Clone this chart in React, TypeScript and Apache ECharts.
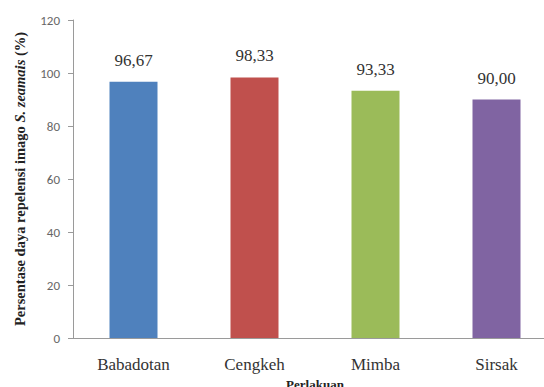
import React, { useEffect, useRef } from "react";
import * as echarts from "echarts";

const categories = ["Babadotan", "Cengkeh", "Mimba", "Sirsak"];
const values = [96.67, 98.33, 93.33, 90.0];
const barColors = ["#4F81BD", "#C0504D", "#9BBB59", "#8064A2"];
const yTicks = { min: 0, max: 120, interval: 20 };
const yTitle = "Persentase daya repelensi imago ";
const yTitleSpecies = "S. zeamais";
const yTitleUnit = " (%)";

const serif = "Liberation Serif";
const sans = "Carlito, Liberation Sans, sans-serif";

const serifText = (size: number, weight: string = "normal", style: string = "normal") => ({
  fontFamily: serif,
  fontWeight: weight,
  fontStyle: style,
  fontSize: size,
  color: "#222",
});

export default function App() {
  const ref = useRef<HTMLDivElement>(null);

  useEffect(() => {
    if (!ref.current) return;
    const chart = echarts.init(ref.current, undefined, { renderer: "svg" });
    chart.setOption({
      animation: false,
      backgroundColor: "#ffffff",
      grid: {
        left: 73,
        top: 20,
        bottom: 49,
        width: 484,
        containLabel: false,
        outerBoundsMode: "none",
      },
      xAxis: {
        type: "category",
        data: categories,
        name: "Perlakuan",
        nameLocation: "middle",
        nameGap: 33,
        nameTextStyle: serifText(13, "bold"),
        axisLine: { lineStyle: { color: "#9a9a9a" } },
        axisTick: { show: false },
        axisLabel: {
          margin: 18,
          formatter: (v: string) => `{c|${v}}`,
          rich: { c: { ...serifText(17), color: "#333" } },
        },
      },
      yAxis: {
        type: "value",
        min: yTicks.min,
        max: yTicks.max,
        interval: yTicks.interval,
        name: `{b|${yTitle}}{i|${yTitleSpecies}}{b|${yTitleUnit}}`,
        nameLocation: "middle",
        nameGap: 46,
        nameTextStyle: {
          ...serifText(14.5, "bold"),
          rich: {
            b: serifText(14.5, "bold"),
            i: serifText(14.5, "bold", "italic"),
          },
        },
        axisLine: { show: true, lineStyle: { color: "#9a9a9a" } },
        axisTick: { show: true, length: 5, lineStyle: { color: "#9a9a9a" } },
        splitLine: { show: false },
        axisLabel: { fontFamily: sans, fontSize: 13, color: "#666", margin: 13 },
      },
      series: [
        {
          type: "bar",
          barWidth: 48,
          data: values.map((v, i) => ({ value: v, itemStyle: { color: barColors[i] } })),
          label: {
            show: true,
            position: "top",
            distance: 13,
            formatter: (p: any) => `{v|${Number(p.value).toFixed(2).replace(".", ",")}}`,
            rich: { v: { ...serifText(17), color: "#333" } },
          },
        },
      ],
    });
    return () => chart.dispose();
  }, []);

  return (
    <div
      ref={ref}
      style={{ position: "fixed", left: 0, top: 0, width: 544, height: 387 }}
    />
  );
}
